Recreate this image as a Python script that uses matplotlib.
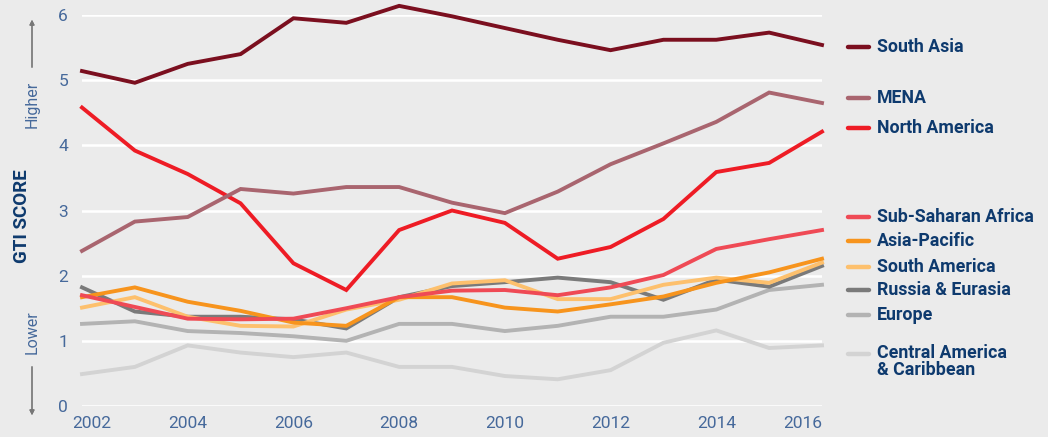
import matplotlib.pyplot as plt
from matplotlib.lines import Line2D
from matplotlib.transforms import ScaledTranslation

years = list(range(2002, 2017))

regions = ["South Asia", "MENA", "North America", "Sub-Saharan Africa", "Asia-Pacific",
           "South America", "Russia & Eurasia", "Europe", "Central America\n& Caribbean"]

south_asia = [5.14, 4.96, 5.25, 5.40, 5.95, 5.88, 6.14, 5.98, 5.80, 5.62, 5.46, 5.62, 5.62, 5.73, 5.54]
mena = [2.38, 2.83, 2.90, 3.33, 3.26, 3.36, 3.36, 3.12, 2.96, 3.29, 3.71, 4.03, 4.36, 4.81, 4.65]
north_america = [4.58, 3.92, 3.56, 3.11, 2.19, 1.78, 2.70, 3.00, 2.81, 2.26, 2.44, 2.87, 3.59, 3.73, 4.21]
sub_saharan = [1.70, 1.52, 1.34, 1.33, 1.34, 1.50, 1.67, 1.77, 1.78, 1.70, 1.82, 2.01, 2.41, 2.56, 2.70]
asia_pacific = [1.67, 1.82, 1.60, 1.46, 1.28, 1.23, 1.67, 1.67, 1.51, 1.45, 1.56, 1.68, 1.89, 2.05, 2.26]
south_america = [1.51, 1.67, 1.37, 1.23, 1.22, 1.48, 1.63, 1.88, 1.93, 1.64, 1.64, 1.86, 1.97, 1.89, 2.20]
russia_eurasia = [1.82, 1.45, 1.37, 1.37, 1.33, 1.19, 1.67, 1.84, 1.90, 1.97, 1.90, 1.63, 1.94, 1.83, 2.15]
europe = [1.26, 1.30, 1.15, 1.12, 1.07, 1.00, 1.26, 1.26, 1.15, 1.23, 1.37, 1.37, 1.48, 1.78, 1.86]
central_america = [0.49, 0.60, 0.93, 0.82, 0.75, 0.82, 0.60, 0.60, 0.46, 0.41, 0.55, 0.97, 1.16, 0.89, 0.93]

series = [south_asia, mena, north_america, sub_saharan, asia_pacific,
          south_america, russia_eurasia, europe, central_america]
colors = ["#7b0f1f", "#a9656f", "#ee1c25", "#ef4a55", "#f7941d",
          "#fdc06d", "#7a7a7a", "#b3b3b3", "#d3d3d3"]
# legend rows, in pixels from the top of the figure
legend_y = [47, 98, 128, 217, 241, 267, 290, 315, 354]

bg = "#ebebeb"
tick_col = "#46699b"
navy = "#0e3a6e"
plt.rcParams['font.family'] = ['Roboto', 'DejaVu Sans']

W, H = 1048, 437
fig = plt.figure(figsize=(W / 100, H / 100), dpi=100, facecolor=bg)
ax = fig.add_axes([82 / W, (H - 406) / H, 740 / W, 391 / H], facecolor=bg)

ax.set_xlim(2002, 2016)
ax.set_ylim(0, 6)
ax.set_yticks(range(0, 7))
ax.grid(axis='y', color='white', linewidth=1.8)
ax.set_axisbelow(True)
for s in ax.spines.values():
    s.set_visible(False)

# draw from the bottom of the legend upwards so the top rows sit on top
for vals, col in list(zip(series, colors))[::-1]:
    ax.plot(years, vals, color=col, linewidth=2.8, solid_joinstyle='miter',
            clip_on=False, zorder=3)

ax.set_xticks(range(2002, 2017, 2))
ax.tick_params(length=0, labelsize=12.5, labelcolor=tick_col)
ax.tick_params(axis='y', pad=10)
ax.tick_params(axis='x', pad=7)
xlabels = ax.get_xticklabels()
xlabels[-1].set_ha('right')
xlabels[0].set_ha('left')
xlabels[0].set_transform(xlabels[0].get_transform() +
                         ScaledTranslation(-0.10, 0, fig.dpi_scale_trans))

# y axis title and direction hints
fig.text(22 / W, 1 - 216 / H, "GTI SCORE", rotation=90, ha='center', va='center',
         fontsize=13.5, fontweight='bold', color=navy)
fig.text(32 / W, 1 - 104 / H, "Higher", rotation=90, ha='center', va='center',
         fontsize=11.5, color=tick_col)
fig.text(32 / W, 1 - 332 / H, "Lower", rotation=90, ha='center', va='center',
         fontsize=11.5, color=tick_col)
fig.add_artist(plt.annotate("", xy=(32 / W, 1 - 17 / H), xytext=(32 / W, 1 - 70 / H),
                            xycoords='figure fraction',
                            arrowprops=dict(arrowstyle='-|>', color='#777777', lw=0.9,
                                            mutation_scale=7)))
fig.add_artist(plt.annotate("", xy=(32 / W, 1 - 418 / H), xytext=(32 / W, 1 - 364 / H),
                            xycoords='figure fraction',
                            arrowprops=dict(arrowstyle='-|>', color='#777777', lw=0.9,
                                            mutation_scale=7)))

# legend on the right
for name, col, yp in zip(regions, colors, legend_y):
    yf = 1 - yp / H
    fig.add_artist(Line2D([848 / W, 869 / W], [yf, yf], color=col, linewidth=3.2,
                          solid_capstyle='round', transform=fig.transFigure))
    if '\n' in name:
        fig.text(877 / W, 1 - (yp - 10) / H, name, ha='left', va='top',
                 fontsize=12.8, fontweight='bold', color=navy, linespacing=0.95)
    else:
        fig.text(877 / W, yf, name, ha='left', va='center',
                 fontsize=12.8, fontweight='bold', color=navy)

fig.savefig("out.png", dpi=100, facecolor=bg)
